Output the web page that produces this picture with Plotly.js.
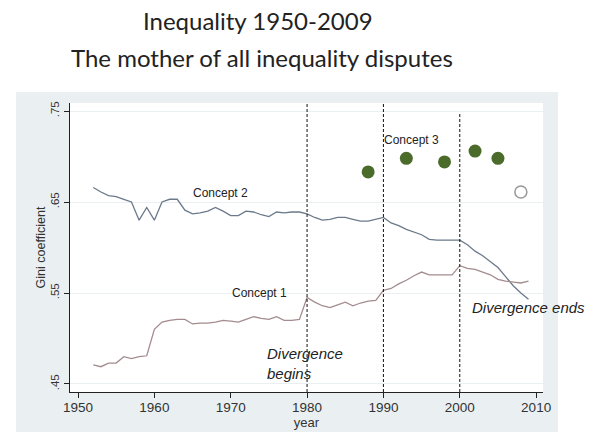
<!DOCTYPE html>
<html>
<head>
<meta charset="utf-8">
<script src="https://cdn.plot.ly/plotly-3.0.1.min.js"></script>
<style>html,body{margin:0;padding:0;background:#fff;}#chart{width:594px;height:432px;}</style>
</head>
<body>
<div id="chart"></div>
<script>
// Concept 2 (blue-grey line)
const years2 = [1952,1953,1954,1955,1956,1957,1958,1959,1960,1961,1962,1963,1964,1965,1966,1967,1968,1969,1970,1971,1972,1973,1974,1975,1976,1977,1978,1979,1980,1981,1982,1983,1984,1985,1986,1987,1988,1989,1990,1991,1992,1993,1994,1995,1996,1997,1998,1999,2000,2001,2002,2003,2004,2005,2006,2007,2008,2009];
const concept2 = [0.666,0.661,0.657,0.656,0.653,0.650,0.630,0.644,0.630,0.650,0.653,0.653,0.641,0.637,0.638,0.640,0.644,0.640,0.635,0.635,0.640,0.639,0.636,0.634,0.639,0.638,0.639,0.639,0.637,0.633,0.630,0.631,0.633,0.633,0.631,0.629,0.629,0.631,0.633,0.627,0.624,0.620,0.617,0.614,0.609,0.608,0.608,0.608,0.608,0.603,0.596,0.591,0.585,0.578,0.568,0.558,0.550,0.543];
// Concept 1 (mauve line)
const years1 = [1952,1953,1954,1955,1956,1957,1958,1959,1960,1961,1962,1963,1964,1965,1966,1967,1968,1969,1970,1971,1972,1973,1974,1975,1976,1977,1978,1979,1980,1981,1982,1983,1984,1985,1986,1987,1988,1989,1990,1991,1992,1993,1994,1995,1996,1997,1998,1999,2000,2001,2002,2003,2004,2005,2006,2007,2008,2009];
const concept1 = [0.471,0.469,0.473,0.473,0.480,0.478,0.480,0.481,0.510,0.518,0.520,0.521,0.521,0.516,0.517,0.517,0.518,0.520,0.519,0.518,0.521,0.524,0.522,0.521,0.524,0.520,0.520,0.521,0.545,0.540,0.536,0.534,0.537,0.540,0.536,0.539,0.541,0.542,0.553,0.555,0.560,0.564,0.569,0.573,0.570,0.570,0.570,0.570,0.580,0.577,0.576,0.573,0.570,0.565,0.563,0.562,0.561,0.563];
// Concept 3 (dots)
const years3 = [1988,1993,1998,2002,2005];
const concept3 = [0.683,0.698,0.694,0.706,0.698];
const years3open = [2008];
const concept3open = [0.661];
// Dividing years
const markerYears = [1980,1990,2000];
// Axis ticks
const xTicks = [1950,1960,1970,1980,1990,2000,2010];
const yTickVals = [0.45,0.55,0.65,0.75];
const yTickText = ['.45','.55','.65','.75'];
// Titles
const titleLine1 = 'Inequality 1950-2009';
const titleLine2 = 'The mother of all inequality disputes';

const font = 'Liberation Sans, Arial, sans-serif';
const titleFont = {family: 'Lato, Open Sans, sans-serif', size: 24, color: '#222'};

const traces = [
  {x: years2, y: concept2, type: 'scatter', mode: 'lines', line: {color: '#6b7a8b', width: 1.3}},
  {x: years1, y: concept1, type: 'scatter', mode: 'lines', line: {color: '#a48c8e', width: 1.3}},
  {x: years3, y: concept3, type: 'scatter', mode: 'markers', marker: {color: '#4b6b2a', size: 13, line: {width: 0}}},
  {x: years3open, y: concept3open, type: 'scatter', mode: 'markers', marker: {color: 'rgba(0,0,0,0)', size: 12, line: {color: '#999999', width: 1.5}}}
];

const shapes = [
  {type: 'rect', xref: 'paper', yref: 'paper', x0: -0.1142, x1: 1.0317, y0: -0.1384, y1: 1.0380, fillcolor: '#eaf0f2', line: {width: 0}, layer: 'below'},
  {type: 'rect', xref: 'paper', yref: 'paper', x0: 0, x1: 1, y0: 0, y1: 1, fillcolor: '#ffffff', line: {width: 0}, layer: 'below'}
];
const lineTops = [0.7605, 0.7605, 0.7475];
markerYears.forEach((yr, i) => {
  shapes.push({type: 'line', xref: 'x', yref: 'y', x0: yr, x1: yr, y0: 0.4412, y1: lineTops[i], line: {color: '#111', width: 1, dash: '3px,2px'}});
});

const annotations = [
  {x: 0.405, y: 1.159, xref: 'paper', yref: 'paper', text: titleLine2, showarrow: false, xanchor: 'center', yanchor: 'middle', font: titleFont},
  {x: 1990, y: 0.762, xref: 'x', yref: 'y', text: '<i>China moves in</i>', showarrow: false, xanchor: 'center', yanchor: 'middle', font: {family: font, size: 15, color: '#222'}},
  {x: 1989.8, y: 0.718, xref: 'x', yref: 'y', text: 'Concept 3', showarrow: false, xanchor: 'left', yanchor: 'middle', font: {family: font, size: 12, color: '#222'}},
  {x: 1964.8, y: 0.660, xref: 'x', yref: 'y', text: 'Concept 2', showarrow: false, xanchor: 'left', yanchor: 'middle', font: {family: font, size: 12, color: '#222'}},
  {x: 1969.9, y: 0.5495, xref: 'x', yref: 'y', text: 'Concept 1', showarrow: false, xanchor: 'left', yanchor: 'middle', font: {family: font, size: 12, color: '#222'}},
  {x: 1974.5, y: 0.472, xref: 'x', yref: 'y', text: '<i>Divergence<br>begins</i>', showarrow: false, xanchor: 'left', yanchor: 'middle', align: 'left', font: {family: font, size: 15, color: '#222'}},
  {x: 2001.4, y: 0.534, xref: 'x', yref: 'y', text: '<i>Divergence ends</i>', showarrow: false, xanchor: 'left', yanchor: 'middle', font: {family: font, size: 15, color: '#222'}}
];

const layout = {
  width: 594, height: 432,
  margin: {l: 70, r: 51, t: 103, b: 40, pad: 0},
  paper_bgcolor: '#ffffff',
  plot_bgcolor: 'rgba(0,0,0,0)',
  showlegend: false,
  title: {
    text: titleLine1,
    font: titleFont,
    x: 0.434, xref: 'container', xanchor: 'center',
    y: 0.949, yref: 'container', yanchor: 'middle'
  },
  xaxis: {
    range: [1948.95, 2010.9], tickvals: xTicks, ticks: 'outside', ticklen: 5, tickcolor: '#222',
    showline: true, linecolor: '#222', linewidth: 1.2, showgrid: false, zeroline: false,
    ticklabelstandoff: -2,
    tickfont: {family: font, size: 13.5, color: '#333'},
    title: {text: 'year', font: {family: font, size: 13, color: '#333'}, standoff: 0}
  },
  yaxis: {
    range: [0.4412, 0.7588], tickvals: yTickVals, ticktext: yTickText, tickangle: -90,
    ticks: 'outside', ticklen: 5, tickcolor: '#222',
    showline: true, linecolor: '#222', linewidth: 1.2, showgrid: true, gridcolor: '#eaf0f2', gridwidth: 1, zeroline: false,
    tickfont: {family: font, size: 11.5, color: '#333'},
    title: {text: 'Gini coefficient', font: {family: font, size: 12.5, color: '#333'}, standoff: 0}
  },
  shapes: shapes,
  annotations: annotations
};

Plotly.newPlot('chart', traces, layout, {staticPlot: true, displayModeBar: false});
</script>
</body>
</html>
